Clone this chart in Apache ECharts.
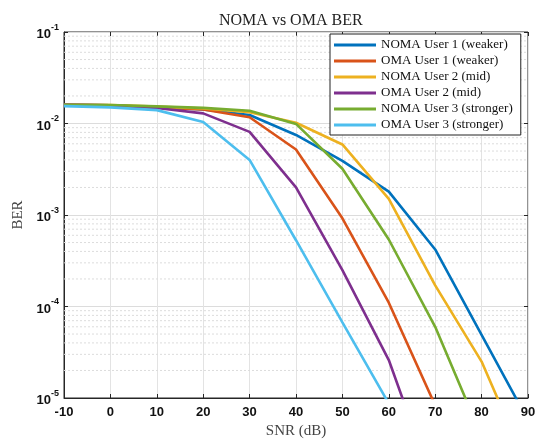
<!DOCTYPE html>
<html><head><meta charset="utf-8">
<script src="https://cdn.jsdelivr.net/npm/echarts@6/dist/echarts.min.js"></script>
<style>html,body{margin:0;padding:0;background:#fff}#c{width:535px;height:439px}</style>
</head><body><div id="c"></div>
<script>
const snr = [-10, 0, 10, 20, 30, 40, 50, 60, 70, 80, 90];
const nomaUser1 = [0.016, 0.0158, 0.015, 0.0142, 0.0124, 0.0075, 0.0039, 0.0018, 4.2e-4, 4.9e-5, 5.7e-6];
const omaUser1  = [0.016, 0.0158, 0.015, 0.0142, 0.0117, 0.0052, 9.2e-4, 1.1e-4, 8.3e-6, 6e-7, 4e-8];
const nomaUser2 = [0.016, 0.0159, 0.0153, 0.0146, 0.0133, 0.0102, 0.0059, 0.0015, 1.7e-4, 2.5e-5, 1.7e-6];
const omaUser2  = [0.016, 0.0158, 0.0148, 0.0129, 0.0081, 0.002, 2.5e-4, 2.6e-5, 1e-6, 3e-8, 5e-10];
const nomaUser3 = [0.016, 0.0159, 0.0154, 0.0148, 0.0138, 0.0099, 0.0032, 5.4e-4, 6e-5, 3.8e-6, 1.5e-7];
const omaUser3  = [0.0155, 0.015, 0.014, 0.0104, 0.004, 5.3e-4, 6.7e-5, 8.7e-6, 6e-7, 3e-8, 1e-9];
const seriesNames = ['NOMA User 1 (weaker)', 'OMA User 1 (weaker)', 'NOMA User 2 (mid)', 'OMA User 2 (mid)', 'NOMA User 3 (stronger)', 'OMA User 3 (stronger)'];
const xTicks = [-10, 0, 10, 20, 30, 40, 50, 60, 70, 80, 90];
const yTicks = [1e-5, 1e-4, 1e-3, 1e-2, 1e-1];

const colors = ['#0072BD', '#D95319', '#EDB120', '#7E2F8E', '#77AC30', '#4DBEEE'];
const allData = [nomaUser1, omaUser1, nomaUser2, omaUser2, nomaUser3, omaUser3];
const xMin = xTicks[0], xMax = xTicks[xTicks.length - 1];

// minor grid values (2..9 x 10^k) inside the decades of the y range
const minorVals = [];
for (let e = -5; e < -1; e++) for (let m = 2; m <= 9; m++) minorVals.push(m * Math.pow(10, e));

const series = [];
minorVals.forEach(v => series.push({
  type: 'line', data: [[xMin, v], [xMax, v]], silent: true, z: 1,
  symbol: 'none', showSymbol: false, legendHoverLink: false,
  lineStyle: {color: '#dcdcdc', type: [2, 2], width: 1}, tooltip: {show: false}
}));
allData.forEach((d, i) => series.push({
  name: seriesNames[i], type: 'line', data: snr.map((x, j) => [x, d[j]]),
  showSymbol: false, symbol: 'none', clip: true,
  lineStyle: {width: 2.6, color: colors[i]}, itemStyle: {color: colors[i]}, z: 5
}));

const chart = echarts.init(document.getElementById('c'), null, {renderer: 'canvas'});
chart.setOption({
  animation: false,
  backgroundColor: '#fff',
  title: {text: 'NOMA vs OMA BER', left: 214, top: 8,
    textStyle: {fontFamily: 'Liberation Serif', fontWeight: 'normal', fontSize: 16, color: '#222'}},
  grid: {left: 64, right: 7, top: 32, bottom: 41, containLabel: false, outerBoundsMode: 'none',
    show: true, borderColor: '#262626', borderWidth: 1, backgroundColor: 'transparent'},
  legend: {
    orient: 'vertical', left: 330, top: 34, padding: [4, 8, 3, 4], itemGap: 2,
    itemWidth: 42, itemHeight: 3, icon: 'rect',
    backgroundColor: '#fff', borderColor: '#222', borderWidth: 1,
    textStyle: {fontFamily: 'Liberation Serif', fontSize: 13, color: '#111', lineHeight: 14},
    data: seriesNames
  },
  xAxis: [{
    type: 'value', min: xMin, max: xMax, interval: 10,
    name: 'SNR (dB)', nameLocation: 'middle', nameGap: 26,
    nameTextStyle: {fontFamily: 'Liberation Serif', fontSize: 15, color: '#444'},
    axisLine: {show: true, onZero: false, lineStyle: {color: '#262626'}},
    axisTick: {show: true, inside: true, length: 4, lineStyle: {color: '#262626'}},
    axisLabel: {fontFamily: 'Liberation Sans', fontWeight: 'bold', fontSize: 13, color: '#111', margin: 8},
    splitLine: {show: true, lineStyle: {color: '#e3e3e3', width: 1}}
  }, {
    type: 'value', position: 'top', min: xMin, max: xMax, interval: 10,
    axisLine: {show: false, onZero: false}, axisTick: {show: true, inside: true, length: 4, lineStyle: {color: '#262626'}},
    axisLabel: {show: false}, splitLine: {show: false}
  }],
  yAxis: [{
    type: 'log', min: 1e-5, max: 1e-1, logBase: 10,
    name: 'BER', nameLocation: 'middle', nameGap: 38,
    nameTextStyle: {fontFamily: 'Liberation Serif', fontSize: 15, color: '#444'},
    axisLine: {show: true, onZero: false, lineStyle: {color: '#262626'}},
    axisTick: {show: true, inside: true, length: 4, lineStyle: {color: '#262626'}},
    axisLabel: {
      margin: 5,
      formatter: v => {
        const e = Math.round(Math.log10(v));
        return yTicks.some(t => Math.abs(Math.log10(t) - e) < 1e-6) ? '{b|10}{s|' + e + '}' : '';
      },
      rich: {
        b: {fontFamily: 'Liberation Sans', fontWeight: 'bold', fontSize: 13, color: '#111', verticalAlign: 'bottom'},
        s: {fontFamily: 'Liberation Sans', fontWeight: 'bold', fontSize: 9, color: '#111', verticalAlign: 'top', padding: [0, 0, 9, 0]}
      }
    },
    splitLine: {show: true, lineStyle: {color: '#dcdcdc', width: 1}}
  }, {
    type: 'log', position: 'right', min: 1e-5, max: 1e-1, logBase: 10,
    axisLine: {show: false, onZero: false}, axisTick: {show: true, inside: true, length: 4, lineStyle: {color: '#262626'}},
    axisLabel: {show: false}, splitLine: {show: false}
  }],
  series: series
});
</script></body></html>
